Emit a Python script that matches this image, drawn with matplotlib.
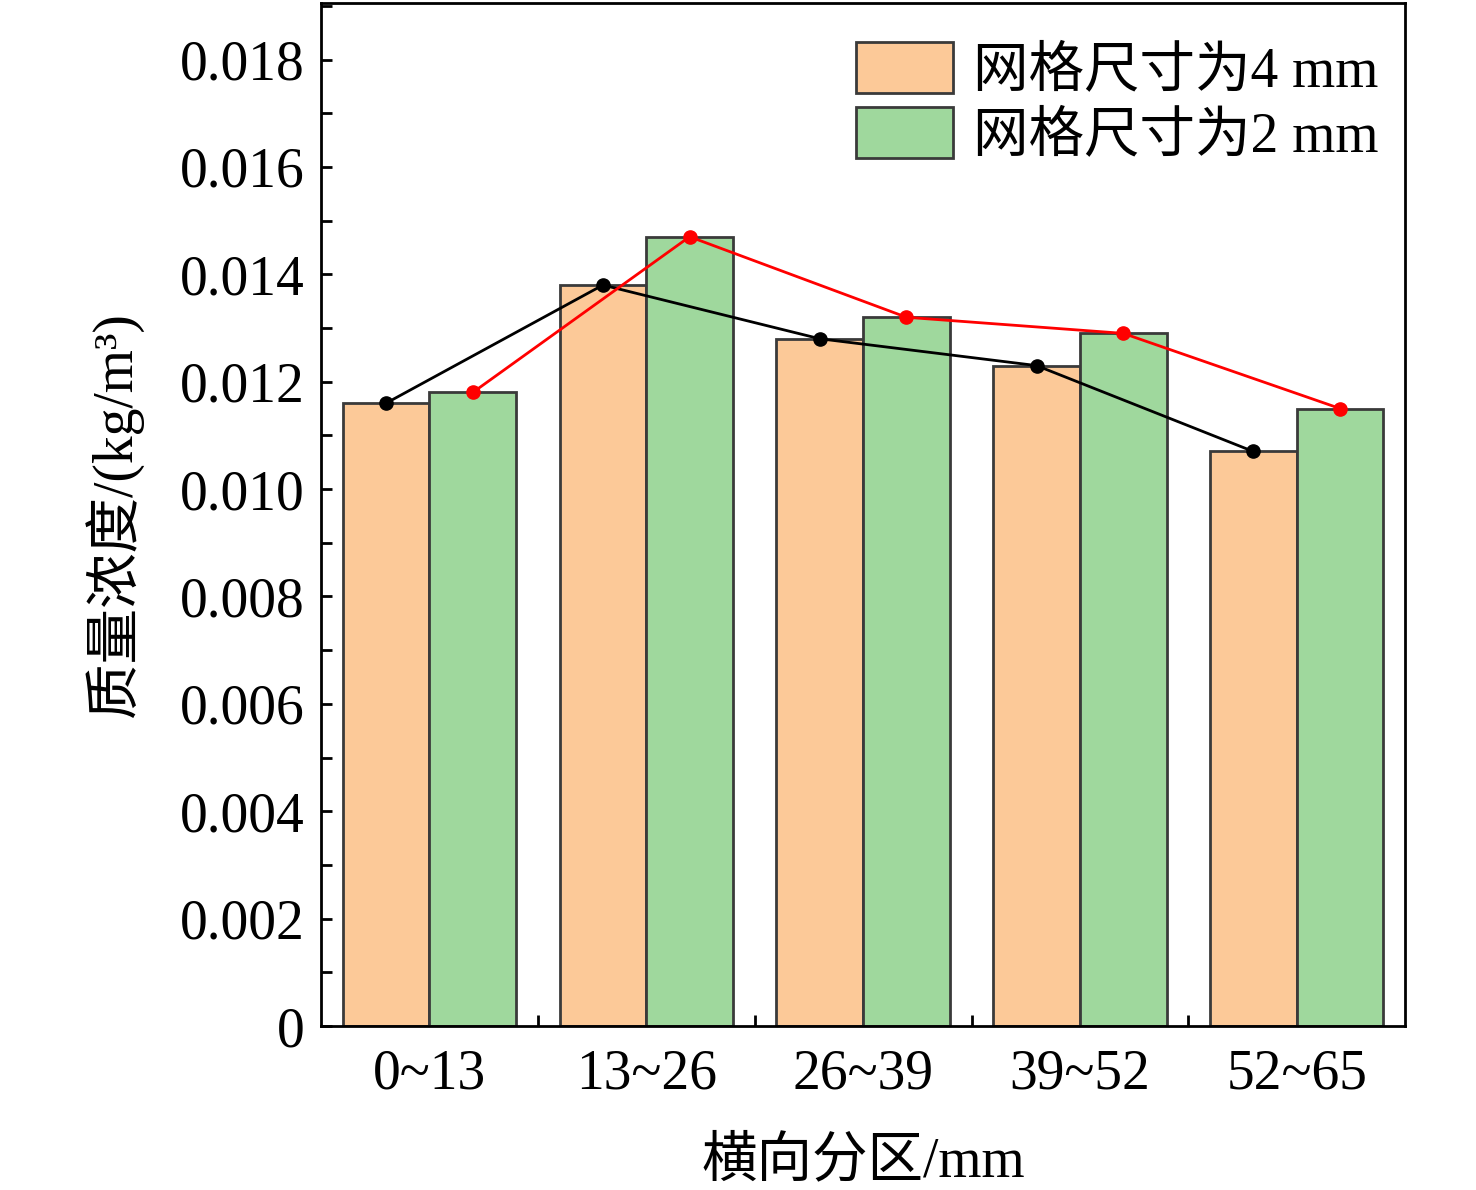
import numpy as np
import matplotlib
matplotlib.use("Agg")
import matplotlib.pyplot as plt
from matplotlib.ticker import MultipleLocator, FixedLocator

plt.rcParams['font.family'] = ['Liberation Serif', 'Noto Sans CJK SC']

# data
zones = ['0~13', '13~26', '26~39', '39~52', '52~65']
mesh_4mm = [0.0116, 0.0138, 0.0128, 0.0123, 0.0107]
mesh_2mm = [0.0118, 0.0147, 0.0132, 0.0129, 0.0115]
series_names = ['网格尺寸为4 mm', '网格尺寸为2 mm']
y_ticks = [0, 0.002, 0.004, 0.006, 0.008, 0.010, 0.012, 0.014, 0.016, 0.018]
y_tick_labels = ['0', '0.002', '0.004', '0.006', '0.008', '0.010',
                 '0.012', '0.014', '0.016', '0.018']

fig = plt.figure(figsize=(14.76, 11.9), dpi=100)
ax = fig.add_axes([0.2175, 0.1378, 0.7345, 0.86])

x = np.arange(len(zones))
w = 0.4
ax.bar(x - w/2, mesh_4mm, width=w, color='#FCC998', edgecolor='#3a3a3a',
       linewidth=2, label=series_names[0], zorder=2)
ax.bar(x + w/2, mesh_2mm, width=w, color='#9FD89D', edgecolor='#3a3a3a',
       linewidth=2, label=series_names[1], zorder=2)

ax.plot(x - w/2, mesh_4mm, color='black', lw=2, marker='o', ms=9.5, zorder=3)
ax.plot(x + w/2, mesh_2mm, color='red', lw=2, marker='o', ms=9.5, zorder=3)

ax.set_xlim(-0.5, 4.5)
ax.set_ylim(0, 0.01906)
ax.set_xticks(x)
ax.set_xticklabels(zones)
ax.xaxis.set_minor_locator(FixedLocator(x[:-1] + 0.5))
ax.set_yticks(y_ticks)
ax.set_yticklabels(y_tick_labels)
ax.yaxis.set_minor_locator(MultipleLocator(0.001))

ax.tick_params(axis='both', which='both', direction='in', width=2, length=8,
               labelsize=40, pad=12)
ax.tick_params(axis='x', pad=16)
for s in ax.spines.values():
    s.set_linewidth(2)

ax.set_xlabel('横向分区/mm', fontsize=40, labelpad=26)
ax.set_ylabel('质量浓度/(kg/m³)', fontsize=40, labelpad=26)

ax.legend(loc='upper right', bbox_to_anchor=(1.011, 1.0), frameon=False,
          fontsize=40, handlelength=1.75, handleheight=1.05,
          handletextpad=0.35, labelspacing=0.15,
          borderaxespad=0.4, borderpad=0.3)

fig.savefig('out.png', dpi=100)
